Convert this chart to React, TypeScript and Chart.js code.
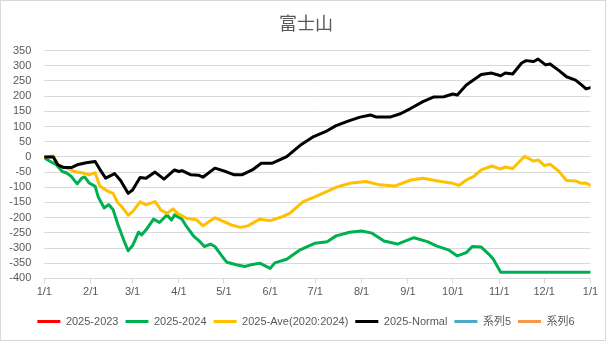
import React, { useEffect, useRef } from "react";
import { Chart, registerables } from "chart.js";

Chart.register(...registerables);

const TITLE = "富士山";
const monthDays = [0, 31, 59, 90, 120, 151, 181, 212, 243, 273, 304, 334, 365];
const monthLabels = ["1/1", "2/1", "3/1", "4/1", "5/1", "6/1", "7/1", "8/1", "9/1", "10/1", "11/1", "12/1", "1/1"];
const seriesNames = ["2025-2023", "2025-2024", "2025-Ave(2020:2024)", "2025-Normal", "系列5", "系列6"];
const seriesColors = ["#FF0000", "#00B050", "#FFC000", "#000000", "#4BACC6", "#F79646"];

const greenDays = [0, 4, 8, 12, 15, 18, 22, 25, 27, 30, 34, 36, 40, 43, 46, 49, 53, 56, 59, 63, 65, 68, 73, 77, 82, 85, 87, 92, 95, 100, 104, 107, 111, 114, 119, 122, 129, 134, 139, 144, 151, 154, 162, 171, 181, 189, 195, 204, 212, 219, 227, 236, 247, 256, 262, 270, 276, 282, 286, 292, 297, 300, 305, 365];
const greenVals = [-3, -15, -26, -48, -53, -64, -89, -70, -66, -86, -97, -131, -168, -157, -174, -220, -273, -309, -292, -248, -257, -240, -205, -216, -191, -208, -191, -205, -229, -262, -279, -295, -287, -295, -328, -347, -356, -361, -354, -350, -367, -349, -337, -306, -284, -279, -260, -248, -244, -251, -277, -287, -266, -279, -293, -306, -326, -315, -295, -297, -320, -336, -380, -380];

const yellowDays = [0, 6, 9, 15, 20, 26, 30, 34, 37, 42, 46, 49, 52, 56, 59, 64, 68, 74, 78, 82, 86, 89, 95, 102, 106, 114, 120, 125, 131, 136, 144, 151, 159, 164, 173, 180, 186, 195, 204, 215, 224, 234, 245, 253, 265, 273, 277, 282, 287, 292, 299, 305, 308, 313, 321, 327, 330, 334, 338, 344, 349, 355, 359, 362, 365];
const yellowVals = [0, 3, -26, -37, -48, -53, -59, -52, -95, -112, -120, -150, -165, -192, -180, -148, -158, -147, -175, -186, -171, -186, -202, -208, -227, -200, -213, -224, -232, -227, -205, -210, -197, -186, -147, -133, -120, -100, -87, -81, -92, -96, -76, -70, -81, -87, -94, -76, -64, -43, -30, -40, -33, -38, 2, -14, -10, -28, -24, -48, -78, -79, -87, -86, -94];

const blackDays = [0, 6, 9, 13, 18, 22, 28, 34, 37, 41, 45, 47, 51, 56, 59, 64, 68, 74, 80, 87, 90, 92, 98, 103, 106, 114, 120, 127, 132, 139, 145, 152, 155, 162, 171, 180, 189, 195, 203, 211, 218, 222, 231, 238, 245, 253, 260, 267, 273, 276, 282, 287, 292, 299, 305, 308, 313, 319, 322, 327, 330, 335, 338, 344, 349, 355, 359, 362, 365];
const blackVals = [0, 0, -26, -35, -35, -26, -19, -15, -40, -70, -60, -55, -78, -120, -109, -68, -70, -50, -73, -43, -48, -45, -59, -60, -67, -37, -46, -59, -59, -43, -21, -21, -15, 1, 38, 67, 86, 103, 118, 131, 138, 131, 131, 142, 160, 182, 197, 198, 207, 204, 237, 254, 271, 276, 267, 276, 273, 309, 317, 314, 322, 303, 306, 284, 264, 253, 237, 224, 228];

const redDays: number[] = [];
const redVals: number[] = [];
const blueDays: number[] = [];
const blueVals: number[] = [];
const orangeDays: number[] = [];
const orangeVals: number[] = [];

const toPoints = (days: number[], vals: number[]) => days.map((d, i) => ({ x: d, y: vals[i] }));

const borderPlugin = {
  id: "outerBorder",
  afterDraw(chart: any) {
    const ctx = chart.ctx;
    ctx.save();
    ctx.strokeStyle = "#d9d9d9";
    ctx.lineWidth = 1;
    ctx.strokeRect(0.5, 0.5, 605, 340);
    ctx.restore();
  },
};

const bgPlugin = {
  id: "bg",
  beforeDraw(chart: any) {
    const ctx = chart.ctx;
    ctx.save();
    ctx.fillStyle = "#ffffff";
    ctx.fillRect(0, 0, chart.width, chart.height);
    ctx.restore();
  },
};

export default function App() {
  const ref = useRef<HTMLCanvasElement>(null);
  useEffect(() => {
    document.body.style.margin = "0";
    const allDays = [redDays, greenDays, yellowDays, blackDays, blueDays, orangeDays];
    const allVals = [redVals, greenVals, yellowVals, blackVals, blueVals, orangeVals];
    const font = "'Liberation Sans', 'Noto Sans CJK JP', sans-serif";
    const chart = new Chart(ref.current as HTMLCanvasElement, {
      type: "line",
      data: {
        datasets: seriesNames.map((name, i) => ({
          label: name,
          data: toPoints(allDays[i], allVals[i]),
          borderColor: seriesColors[i],
          backgroundColor: seriesColors[i],
          borderWidth: 3,
          pointRadius: 0,
          tension: 0,
          borderJoinStyle: "round" as const,
          borderCapStyle: "round" as const,
          order: 5 - i,
        })),
      },
      plugins: [bgPlugin, borderPlugin],
      options: {
        animation: false,
        responsive: false,
        layout: { padding: { left: 5, right: 0, top: 0, bottom: 5 } },
        font: { family: font },
        plugins: {
          title: {
            display: true,
            text: TITLE,
            color: "#595959",
            font: { family: "'Noto Sans CJK JP', sans-serif", size: 18, weight: "normal" },
            padding: { top: 12, bottom: 17 },
          },
          legend: {
            position: "bottom",
            labels: {
              boxWidth: 23,
              boxHeight: 3,
              padding: 7,
              color: "#595959",
              font: { family: font, size: 11 },
              sort: (a: any, b: any) => a.datasetIndex - b.datasetIndex,
              generateLabels: (c: any) =>
                Chart.defaults.plugins.legend.labels.generateLabels(c).map((l: any) => ({ ...l, lineWidth: 0 })),
            },
          },
          tooltip: { enabled: false },
        },
        scales: {
          x: {
            type: "linear",
            min: 0,
            max: 365,
            afterBuildTicks: (scale: any) => {
              scale.ticks = monthDays.map((v) => ({ value: v }));
            },
            afterFit: (scale: any) => {
              scale.height = 30.6;
              scale.paddingRight = 16.5;
            },
            ticks: {
              autoSkip: false,
              maxRotation: 0,
              padding: 2,
              color: "#595959",
              font: { family: font, size: 11 },
              callback: (_v: any, i: number) => monthLabels[i],
            },
            grid: { drawOnChartArea: false, drawTicks: true, tickLength: 5, color: "#d9d9d9" },
            border: { display: true, color: "#d9d9d9" },
          },
          y: {
            min: -400,
            max: 350,
            afterFit: (scale: any) => {
              scale.width = 39.3;
            },
            ticks: {
              stepSize: 50,
              autoSkip: false,
              padding: 13,
              color: "#595959",
              font: { family: font, size: 11 },
            },
            grid: { drawTicks: false, color: "#d9d9d9" },
            border: { display: false },
          },
        },
      },
    });
    return () => chart.destroy();
  }, []);
  return (
    <div style={{ width: 607, height: 342 }}>
      <canvas ref={ref} width={607} height={342} />
    </div>
  );
}
